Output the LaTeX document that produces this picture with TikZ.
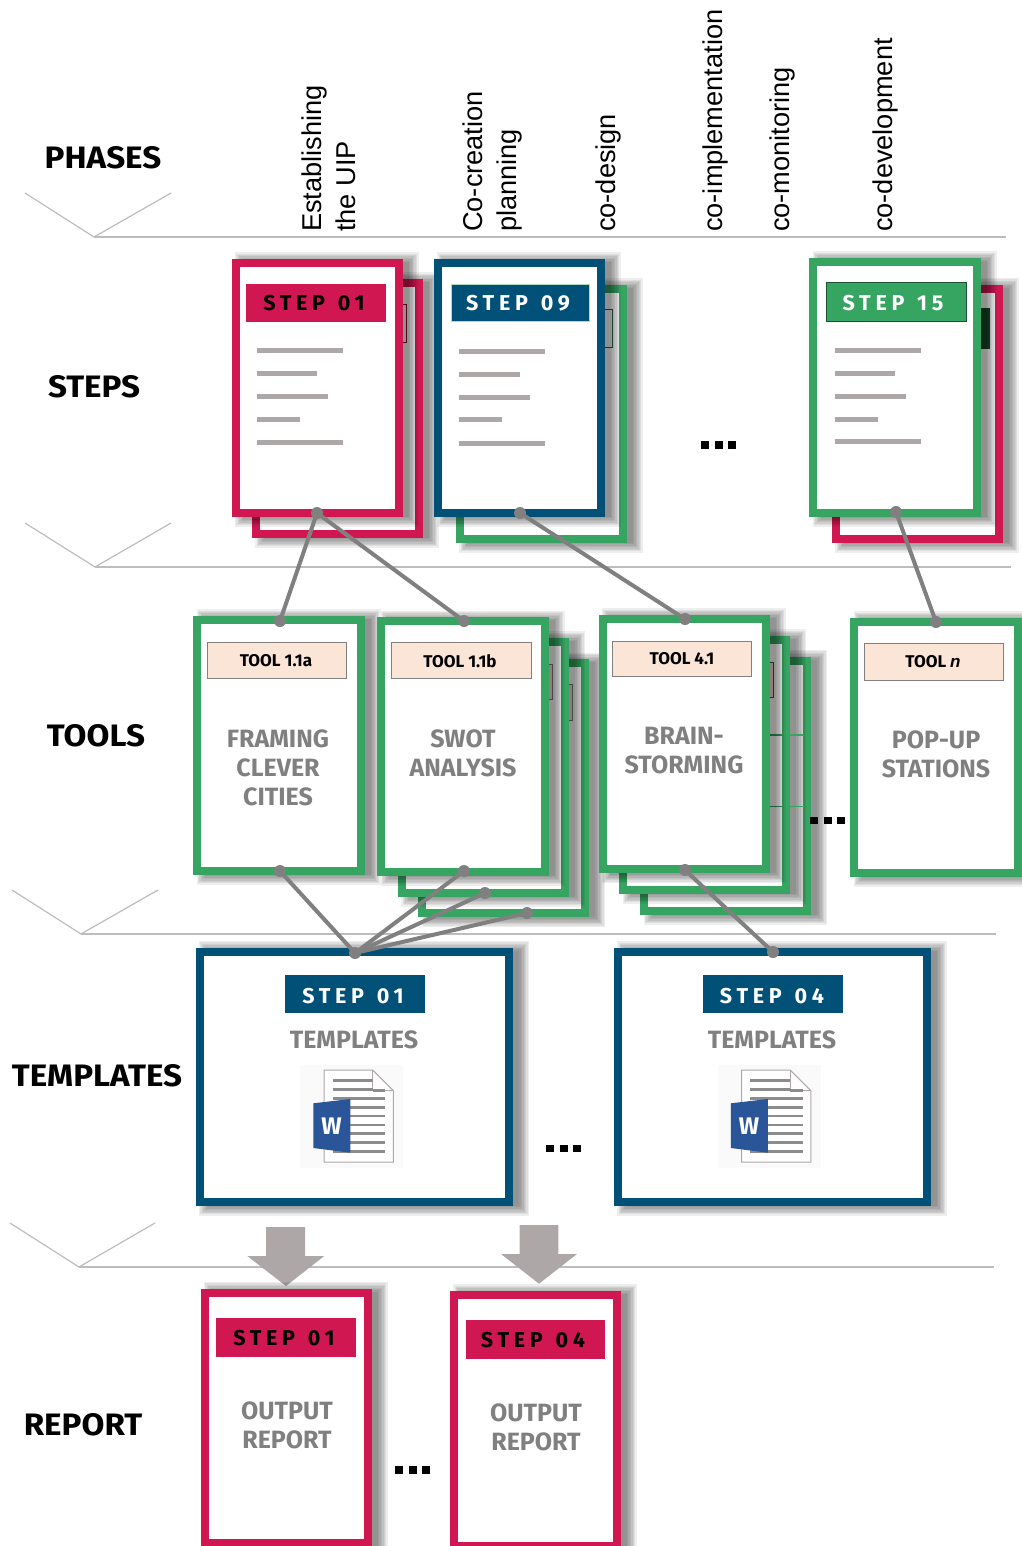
\documentclass[tikz,border=0pt]{standalone}
\usepackage{fontspec}
\setmainfont{Liberation Sans}
\newfontfamily\dinfont{Fira Sans}[BoldFont={Fira Sans Bold}]
\newfontfamily\headfont{Fira Sans}[BoldFont={Fira Sans Bold},BoldFeatures={FakeStretch=1.07}]
\newfontfamily\dinspaced{Fira Sans}[BoldFont={Fira Sans Bold},LetterSpace=22,WordSpace=1.3]
\definecolor{crim}{HTML}{D11752}
\definecolor{navy}{HTML}{005077}
\definecolor{leaf}{HTML}{36A561}
\definecolor{graytxt}{HTML}{808080}
\definecolor{barcol}{HTML}{ADA8A7}
\definecolor{peach}{HTML}{FBE5D7}
\definecolor{wordblue}{HTML}{2A5699}
\definecolor{phaseline}{HTML}{BDBDBD}
\tikzset{
  cardbox/.style={draw=#1,fill=white,line width=8pt,inner sep=0pt,outer sep=0pt},
  tagbox/.style={draw=#1,inner sep=0pt,outer sep=0pt,line width=1pt},
  heading/.style={font=\headfont\bfseries\fontsize{31}{31}\selectfont,inner sep=0pt},
  rotlabel/.style={rotate=90,anchor=base west,inner sep=0pt,font=\fontsize{27.2}{28}\selectfont},
  steptxt/.style={font=\dinspaced\bfseries\fontsize{21.5}{22}\selectfont,inner sep=0pt},
  tooltxt/.style={font=\dinfont\bfseries\fontsize{17}{18}\selectfont,inner sep=0pt},
  bodytxt/.style={font=\dinfont\bfseries\fontsize{25}{29}\selectfont,text=graytxt,align=center,inner sep=0pt},
  dotnode/.style={circle,fill=graytxt,draw=none,minimum size=12pt,inner sep=0pt,outer sep=0pt},
  conn/.style={draw=graytxt,line width=4pt},
  phase/.style={draw=phaseline,line width=1.2pt},
  bar/.style={draw=barcol,line width=5pt},
  blockarrow/.style={fill=barcol,draw=none},
  sq/.style={fill=black,draw=none}
}
\newcommand{\shad}[4]{%
  \foreach \i in {0,...,7}{%
    \fill[black,fill opacity=.068] ({#1+13-1.4*\i},{#2+3-1.4*\i}) rectangle ({#3+6+1.4*\i},{#4+\i*1.4});
  }}
% name x0 y0 x1 y1 colour : outer extents
\newcommand{\card}[6]{%
  \shad{#2}{#3}{#4}{#5}%
  \node[cardbox=#6,minimum width={(#4-#2-8)*1pt},minimum height={(#5-#3-8)*1pt}] (#1) at ({(#2+#4)/2},{(#3+#5)/2}) {};}
% name x0 y0 x1 y1 fill border
\newcommand{\tagrect}[7]{%
  \node[tagbox=#7,fill=#6,minimum width={(#4-#2)*1pt},minimum height={(#5-#3)*1pt}] (#1) at ({(#2+#4)/2},{(#3+#5)/2}) {};}
\newcommand{\barsx}[6]{% x y1..y5
  \draw[bar] (#1,#2) -- ++(86,0);
  \draw[bar] (#1,#3) -- ++(60.5,0);
  \draw[bar] (#1,#4) -- ++(71,0);
  \draw[bar] (#1,#5) -- ++(43,0);
  \draw[bar] (#1,#6) -- ++(86,0);}
\newcommand{\threedots}[2]{%
  \fill[sq] (#1,#2) rectangle ++(8,7.5);
  \fill[sq] (#1+13.5,#2) rectangle ++(8,7.5);
  \fill[sq] (#1+27,#2) rectangle ++(8,7.5);}
\newcommand{\wordicon}[2]{%
  \begin{scope}[shift={(#1,#2)}]
    \fill[white!98!black] (300,1065) rectangle (403,1168);
    \draw[barcol,line width=1pt,fill=white] (324,1070) -- (372.7,1070) -- (393.3,1090.7) -- (393.3,1162) -- (324,1162) -- cycle;
    \draw[barcol,line width=.8pt] (372.7,1070) -- (372.7,1090.7) -- (393.3,1090.7);
    \foreach \yy in {1080.7,1089.7}{\draw[black!45,line width=2.6pt] (332.7,\yy) -- (372.7,\yy);}
    \draw[black!45,line width=2.6pt] (372.7,1090.2) -- (385,1090.2);
    \foreach \yy in {1098.3,1107.3,1116,1125,1133.7,1142.3,1151.3}{\draw[black!45,line width=2.6pt] (332.7,\yy) -- (385,\yy);}
    \fill[wordblue] (313.3,1103.3) -- (350.3,1099) -- (350.3,1152.7) -- (313.3,1148) -- cycle;
    \node[font=\dinfont\bfseries\fontsize{24}{24}\selectfont,text=white,inner sep=0pt] at (331.5,1126) {W};
  \end{scope}}
\begin{document}
\begin{tikzpicture}[x=1pt,y=-1pt]
\useasboundingbox (0,0) rectangle (1021,1546);
% phase rules
\draw[phase] (25,193) -- (94,237) -- (171,193);
\draw[phase] (94,237) -- (1006,237);
\draw[phase] (25,523) -- (95,567) -- (171,523);
\draw[phase] (95,567) -- (1011,567);
\draw[phase] (12,890) -- (81,934) -- (158,890);
\draw[phase] (81,934) -- (996,934);
\draw[phase] (10,1223) -- (79,1267) -- (155,1223);
\draw[phase] (79,1267) -- (994,1267);
% headings
\node[heading] (hphases) at (103,158) {PHASES};
\node[heading] (hsteps) at (94,387) {STEPS};
\node[heading] (htools) at (96,736) {TOOLS};
\node[heading] (htempl) at (97,1076) {TEMPLATES};
\node[heading] (hreport) at (83,1425) {REPORT};
% phase labels
\node[rotlabel] (p1a) at (321.5,232) {Establishing};
\node[rotlabel] (p1b) at (355,232) {the UIP};
\node[rotlabel] (p2a) at (482,232) {Co-creation};
\node[rotlabel] (p2b) at (516,232) {planning};
\node[rotlabel] (p3) at (615,232) {co-design};
\node[rotlabel] (p4) at (722,232) {co-implementation};
\node[rotlabel] (p5) at (789.5,232) {co-monitoring};
\node[rotlabel] (p6) at (892,232) {co-development};
% STEP 01
\card{s1b}{252}{279}{423}{538}{crim}
\tagrect{s1bt}{300}{304}{406}{342}{white}{crim!70!black}
\card{s1}{231.7}{259}{402.7}{517}{crim}
\tagrect{s1t}{246.7}{284}{385}{321}{crim}{crim}
\node[steptxt,text=black] (s1x) at (314,303) {STEP 01};
\barsx{256.5}{350.5}{373.5}{396.5}{419.5}{442}
% STEP 09
\card{s9b}{456}{285}{627}{543}{leaf}
\tagrect{s9bt}{500}{309}{612}{347}{white}{leaf!60!black}
\card{s9}{434}{259}{605}{517}{navy}
\tagrect{s9t}{451}{284}{589}{321}{navy}{leaf!40!white}
\node[steptxt,text=white] (s9x) at (518,303) {STEP 09};
\barsx{459}{351}{374}{397}{419.5}{443}
% STEP 15
\card{s15b}{832}{284.7}{1003}{543}{crim}
\tagrect{s15bt}{900}{308}{989}{348}{leaf!45!black}{leaf!45!black}
\card{s15}{809.3}{258}{980.7}{516.7}{leaf}
\tagrect{s15t}{826}{282}{966}{321}{leaf}{leaf!50!black}
\node[steptxt,text=white] (s15x) at (893,303) {STEP 15};
\barsx{834.5}{350.5}{373}{396}{419}{441}
\threedots{701}{441}
% TOOL 1.1a
\card{ta}{193.3}{616}{364.7}{875}{leaf}
\tagrect{tat}{207}{642.7}{346.3}{678.3}{peach}{graytxt}
\node[tooltxt] (tax) at (276,661) {TOOL 1.1a};
\node[bodytxt] (tab) at (278,768) {FRAMING\\CLEVER\\CITIES};
% TOOL 1.1b stack
\card{tb2}{418.3}{659.3}{589.3}{917.3}{leaf}
\tagrect{tb2t}{480}{684}{572}{720}{peach}{graytxt}
\card{tb1}{398}{638}{569.3}{896.7}{leaf}
\tagrect{tb1t}{460}{664}{552}{699}{peach}{graytxt}
\card{tb}{377.3}{617.3}{548.7}{876}{leaf}
\tagrect{tbt}{391.3}{642.7}{531.7}{678.7}{peach}{graytxt}
\node[tooltxt] (tbx) at (460,661) {TOOL 1.1b};
\node[bodytxt] (tbb) at (463,753) {SWOT\\ANALYSIS};
% TOOL 4.1 stack
\card{tc2}{640.3}{656.7}{811.3}{915}{leaf}
\card{tc1}{619.3}{636}{790.3}{894}{leaf}
\tagrect{tc1t}{690}{662}{773}{697}{peach}{leaf!60!black}
\coordinate (gl1a) at (770,735); \coordinate (gl1b) at (804,735);
\coordinate (gl2a) at (770,806.7); \coordinate (gl2b) at (804,806.7);
\draw[leaf,line width=1.2pt] (gl1a) -- (gl1b);
\draw[leaf,line width=1.2pt] (gl2a) -- (gl2b);
\card{tc}{598.7}{615}{769.7}{873.3}{leaf}
\tagrect{tct}{612.3}{641}{751.7}{676}{peach}{graytxt}
\node[tooltxt] (tcx) at (682,659) {TOOL 4.1};
\node[bodytxt] (tcb) at (684,751) {BRAIN-\\STORMING};
\threedots{810}{816.5}
% TOOL n
\card{tn}{850.3}{618}{1022}{876.7}{leaf}
\tagrect{tnt}{864}{643.5}{1003.7}{680}{peach}{graytxt}
\node[tooltxt] (tnx) at (933,662) {TOOL {\rmfamily\itshape\bfseries n}};
\node[bodytxt] (tnb) at (936,754) {POP-UP\\STATIONS};
% TEMPLATES
\card{m1}{195.7}{947.7}{513.3}{1206}{navy}
\tagrect{m1t}{285.7}{975}{424.3}{1012.7}{navy}{navy}
\node[steptxt,text=white] (m1x) at (353,996) {STEP 01};
\node[bodytxt] (m1b) at (354,1040) {TEMPLATES};
\wordicon{0}{0}
\card{m2}{614}{948}{931}{1206}{navy}
\tagrect{m2t}{703}{975}{842}{1012.7}{navy}{navy}
\node[steptxt,text=white] (m2x) at (772,996) {STEP 04};
\node[bodytxt] (m2b) at (772,1040) {TEMPLATES};
\wordicon{417.5}{0}
\threedots{546}{1144.5}
% block arrows
\fill[blockarrow] (266,1227) -- (305,1227) -- (305,1256) -- (324.3,1256) -- (286,1286) -- (247.3,1256) -- (266,1256) -- cycle;
\fill[blockarrow] (519.7,1225) -- (558.3,1225) -- (558.3,1254) -- (577,1254) -- (539,1283.7) -- (501,1254) -- (519.7,1254) -- cycle;
% REPORT
\card{r1}{200.7}{1288.7}{372}{1547}{crim}
\tagrect{r1t}{216.3}{1318.7}{355}{1356.7}{crim}{crim}
\node[steptxt,text=black] (r1x) at (284,1338) {STEP 01};
\node[bodytxt] (r1b) at (287,1425) {OUTPUT\\REPORT};
\card{r2}{450}{1291}{621}{1549.7}{crim}
\tagrect{r2t}{466}{1320}{604.7}{1358}{crim}{crim}
\node[steptxt,text=black] (r2x) at (533,1340.5) {STEP 04};
\node[bodytxt] (r2b) at (536,1427) {OUTPUT\\REPORT};
\threedots{395.3}{1466}
% connectors
\node[dotnode] (ds1) at (317,513) {};
\node[dotnode] (ds9) at (520,513) {};
\node[dotnode] (ds15) at (896,512) {};
\node[dotnode] (dta1) at (280,621) {};
\node[dotnode] (dtb1) at (464,621) {};
\node[dotnode] (dtc1) at (685,619) {};
\node[dotnode] (dtn1) at (936,622) {};
\node[dotnode] (dta2) at (280,871) {};
\node[dotnode] (dtb2) at (464,871) {};
\node[dotnode] (dtb3) at (485,893) {};
\node[dotnode] (dtb4) at (527,913) {};
\node[dotnode] (dtc2) at (685,870) {};
\node[dotnode] (dm1) at (355,953) {};
\node[dotnode] (dm2) at (773,952) {};
\draw[conn] (ds1.center) -- (dta1.center);
\draw[conn] (ds1.center) -- (dtb1.center);
\draw[conn] (ds9.center) -- (dtc1.center);
\draw[conn] (ds15.center) -- (dtn1.center);
\draw[conn] (dta2.center) -- (dm1.center);
\draw[conn] (dtb2.center) -- (dm1.center);
\draw[conn] (dtb3.center) -- (dm1.center);
\draw[conn] (dtb4.center) -- (dm1.center);
\draw[conn] (dtc2.center) -- (dm2.center);
\end{tikzpicture}
\end{document}
